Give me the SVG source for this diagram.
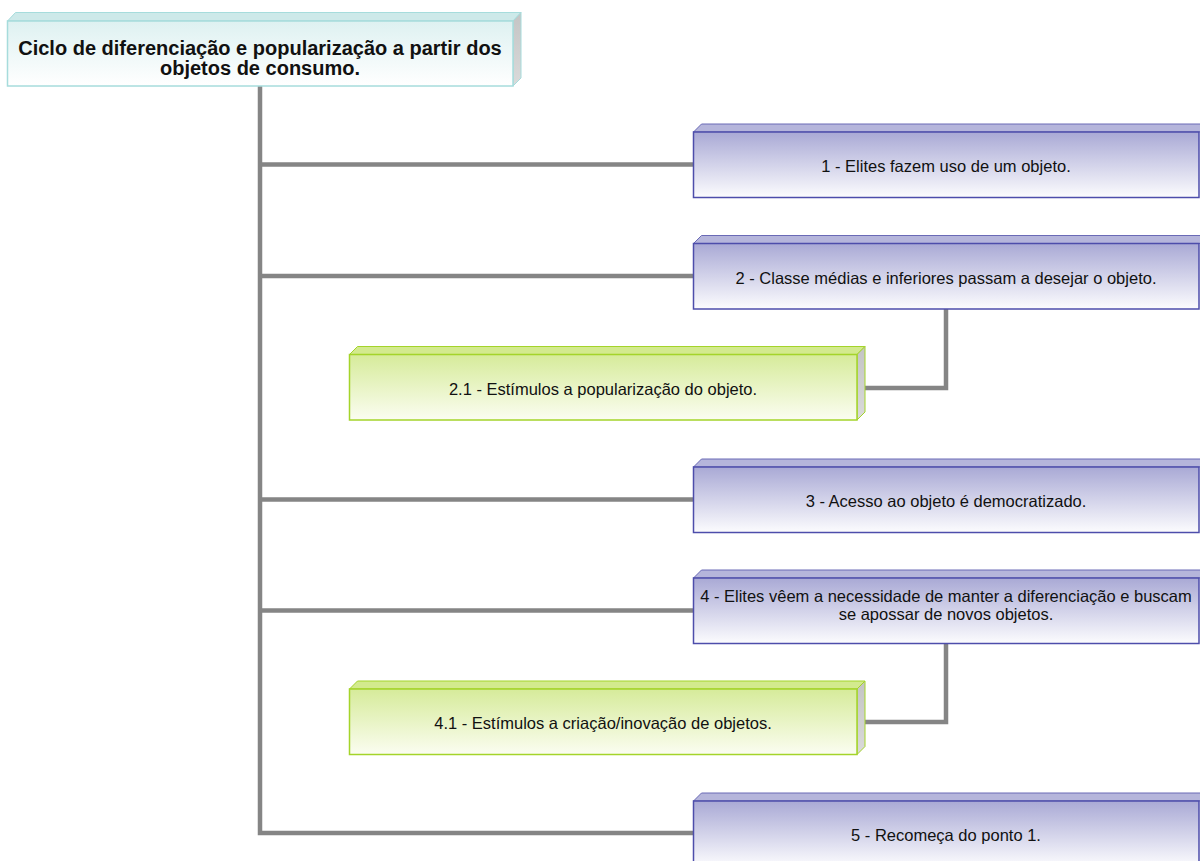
<svg xmlns="http://www.w3.org/2000/svg" width="1200" height="861" viewBox="0 0 1200 861">
<defs>
<linearGradient id="gBlue" x1="0" y1="0" x2="0" y2="1"><stop offset="0" stop-color="#a9a9d5"/><stop offset="1" stop-color="#fcfcfe"/></linearGradient>
<linearGradient id="gGreen" x1="0" y1="0" x2="0" y2="1"><stop offset="0" stop-color="#d6eb9a"/><stop offset="1" stop-color="#fbfdf1"/></linearGradient>
<linearGradient id="gTitle" x1="0" y1="0" x2="0" y2="1"><stop offset="0" stop-color="#def1f1"/><stop offset="1" stop-color="#ffffff"/></linearGradient>
<linearGradient id="gSide" x1="0" y1="0" x2="0" y2="1"><stop offset="0" stop-color="#c4c4c4"/><stop offset="1" stop-color="#dadada"/></linearGradient>
</defs>
<style>
.blue .front{fill:url(#gBlue);stroke:#4d4dab;stroke-width:1.5}
.blue .top{fill:#b5b5db;stroke:#6a6ab6;stroke-width:1}
.green .front{fill:url(#gGreen);stroke:#a4d42a;stroke-width:1.5}
.green .top{fill:#d3ea8e;stroke:#a4d42a;stroke-width:1}
.green .side{fill:url(#gSide);stroke:#a4d42a;stroke-width:1}
.title .front{fill:url(#gTitle);stroke:#a6dcdc;stroke-width:1.5}
.title .top{fill:#cde9e9;stroke:#a6dcdc;stroke-width:1}
.title .side{fill:url(#gSide);stroke:#a6dcdc;stroke-width:1}
text{font-family:"Liberation Sans",Arial,sans-serif;fill:#111;text-anchor:middle}
.lbl{font-size:16.5px}
.ttl{font-size:20px;font-weight:bold}
.conn{fill:none;stroke:#858585;stroke-width:4.5;stroke-linejoin:miter}
</style>
<g id="connectors">
<path class="conn" d="M260,86 V833 H693"/>
<path class="conn" d="M260,164.5 H693"/>
<path class="conn" d="M260,276 H693"/>
<path class="conn" d="M260,499.5 H693"/>
<path class="conn" d="M260,610.5 H693"/>
<path class="conn" d="M946,309 V388 H865"/>
<path class="conn" d="M946,643.5 V722 H865"/>
</g>
<g id="title" class="title">
<path class="top" d="M7.5,21 L15.5,12.5 H521 L513,21 Z"/>
<path class="side" d="M513,21 L521,12.5 V78 L513,86 Z"/>
<rect class="front" x="7.5" y="21" width="505.5" height="65"/>
<text class="ttl" x="260" y="55">Ciclo de diferenciação e popularização a partir dos</text>
<text class="ttl" x="260" y="75">objetos de consumo.</text>
</g>
<g id="n1" class="blue">
<path class="top" d="M693.5,132 L701.5,124 H1210 L1202,132 Z"/>
<rect class="front" x="693.5" y="132" width="505.5" height="65.5"/>
<text class="lbl" x="946" y="172">1 - Elites fazem uso de um objeto.</text>
</g>
<g id="n2" class="blue">
<path class="top" d="M693.5,243.5 L701.5,235.5 H1210 L1202,243.5 Z"/>
<rect class="front" x="693.5" y="243.5" width="505.5" height="65.5"/>
<text class="lbl" x="946" y="284">2 - Classe médias e inferiores passam a desejar o objeto.</text>
</g>
<g id="n21" class="green">
<path class="top" d="M349.5,354.5 L357.5,346.5 H865 L857,354.5 Z"/>
<path class="side" d="M857,354.5 L865,346.5 V412 L857,420 Z"/>
<rect class="front" x="349.5" y="354.5" width="507.5" height="65.5"/>
<text class="lbl" x="603" y="395">2.1 - Estímulos a popularização do objeto.</text>
</g>
<g id="n3" class="blue">
<path class="top" d="M693.5,467 L701.5,459 H1210 L1202,467 Z"/>
<rect class="front" x="693.5" y="467" width="505.5" height="65.5"/>
<text class="lbl" x="946" y="507">3 - Acesso ao objeto é democratizado.</text>
</g>
<g id="n4" class="blue">
<path class="top" d="M693.5,578 L701.5,570 H1210 L1202,578 Z"/>
<rect class="front" x="693.5" y="578" width="505.5" height="65.5"/>
<text class="lbl" x="946" y="602">4 - Elites vêem a necessidade de manter a diferenciação e buscam</text>
<text class="lbl" x="946" y="620">se apossar de novos objetos.</text>
</g>
<g id="n41" class="green">
<path class="top" d="M349.5,689 L357.5,681 H865 L857,689 Z"/>
<path class="side" d="M857,689 L865,681 V746.5 L857,754.5 Z"/>
<rect class="front" x="349.5" y="689" width="507.5" height="65.5"/>
<text class="lbl" x="603" y="729">4.1 - Estímulos a criação/inovação de objetos.</text>
</g>
<g id="n5" class="blue">
<path class="top" d="M693.5,801 L701.5,793 H1210 L1202,801 Z"/>
<rect class="front" x="693.5" y="801" width="505.5" height="65.5"/>
<text class="lbl" x="946" y="841">5 - Recomeça do ponto 1.</text>
</g>
</svg>
